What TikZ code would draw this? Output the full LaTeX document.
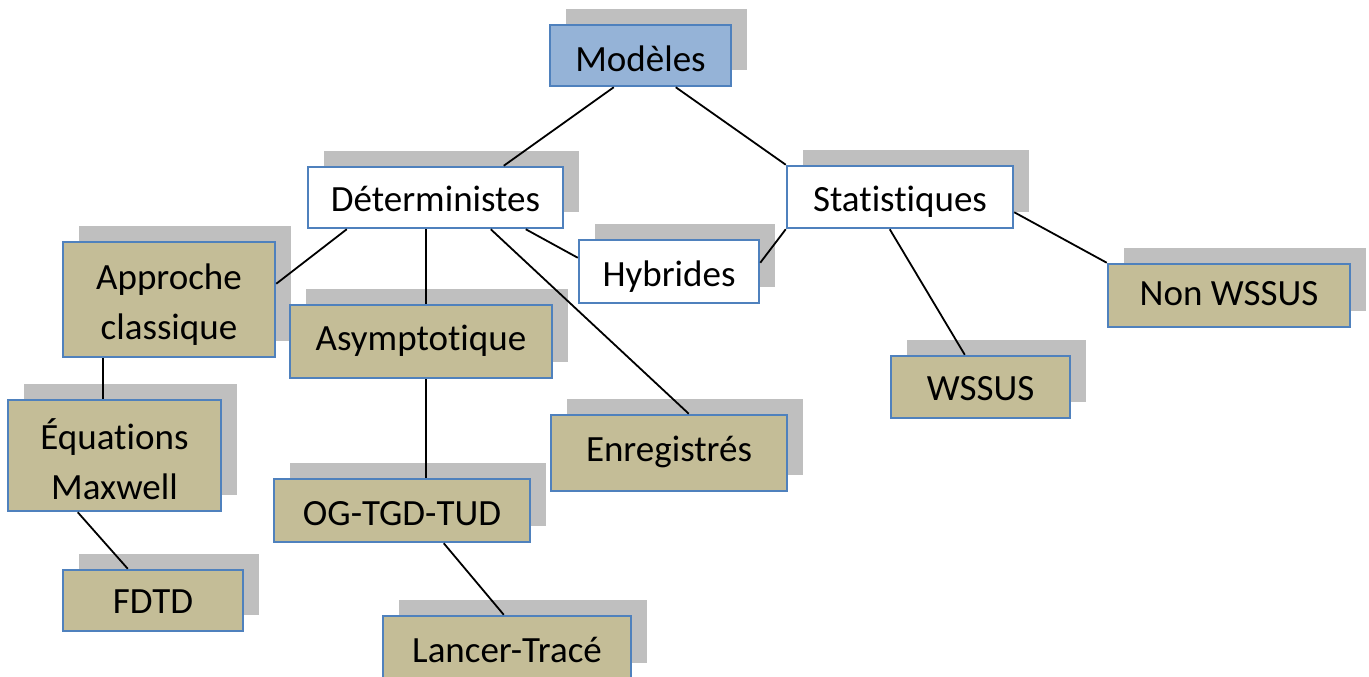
\documentclass[tikz,border=0pt]{standalone}
\usepackage{fontspec}
\setmainfont{Carlito}[Ligatures=NoCommon]
\usetikzlibrary{shadows}
\definecolor{edgeblue}{HTML}{4F81BD}
\definecolor{tanfill}{HTML}{C4BD97}
\definecolor{rootfill}{HTML}{95B3D7}
\definecolor{shadowgray}{HTML}{BFBFBF}
\tikzset{
  box/.style={rectangle, draw=edgeblue, line width=2.5pt, inner sep=0pt,
    font=\fontsize{37}{50}\selectfont, text=black, align=center,
    general shadow={fill=shadowgray, shadow xshift=16pt, shadow yshift=16pt}},
  plainbox/.style={box, fill=white},
  tanbox/.style={box, fill=tanfill},
  rootbox/.style={box, fill=rootfill},
  link/.style={draw=black, line width=1.8pt}
}
\begin{document}
\begin{tikzpicture}[x=1pt, y=-1pt]
\useasboundingbox (0,0) rectangle (1369,677);
\clip (0,0) rectangle (1369,677);

% boxes (centre, width, height)
\node[rootbox,  minimum width=181pt, minimum height=61pt,  text height=32pt, text depth=0pt] (mod)  at (640.5,55.5) {Modèles};
\node[plainbox, minimum width=255pt, minimum height=61pt,  text height=28pt, text depth=0pt] (det)  at (435.5,197.5) {Déterministes};
\node[plainbox, minimum width=226pt, minimum height=62pt,  text height=29pt, text depth=0pt] (sta)  at (900,197) {Statistiques};
\node[plainbox, minimum width=180pt, minimum height=63pt,  text height=30pt, text depth=0pt] (hyb)  at (669,271.5) {Hybrides};
\node[tanbox,   minimum width=212pt, minimum height=115pt] (app)  at (169,299.5) {\rule{0pt}{35pt}Approche\\classique};
\node[tanbox,   minimum width=262pt, minimum height=73pt,  text height=18pt, text depth=0pt] (asy)  at (421,341.5) {Asymptotique};
\node[tanbox,   minimum width=213pt, minimum height=111pt] (equ)  at (114.5,455.5) {\rule{0pt}{39pt}Équations\\Maxwell};
\node[tanbox,   minimum width=180pt, minimum height=61pt,  text height=25pt, text depth=0pt] (fdtd) at (153,600.5) {FDTD};
\node[tanbox,   minimum width=256pt, minimum height=63pt,  text height=29pt, text depth=0pt] (og)   at (402,510.5) {OG-TGD-TUD};
\node[tanbox,   minimum width=236pt, minimum height=76pt,  text height=16pt, text depth=0pt] (enr)  at (669,453) {Enregistrés};
\node[tanbox,   minimum width=248pt, minimum height=63pt,  text height=30pt, text depth=0pt] (lan)  at (507,647.5) {Lancer-Tracé};
\node[tanbox,   minimum width=179pt, minimum height=62pt,  text height=27pt, text depth=0pt] (wss)  at (980.5,387) {WSSUS};
\node[tanbox,   minimum width=242pt, minimum height=63pt,  text height=19pt, text depth=0pt] (non)  at (1229,295.5) {Non WSSUS};

% connectors
\draw[link] ([xshift=65pt]mod.south west) -- ([xshift=197pt]det.north west);
\draw[link] ([xshift=127pt]mod.south west) -- (sta.north west);
\draw[link] ([xshift=40pt]det.south west) -- ([yshift=-43pt]app.north east);
\draw[link] ([xshift=119pt]det.south west) -- ([xshift=137pt]asy.north west);
\draw[link] ([xshift=184pt]det.south west) -- ([xshift=139pt]enr.north west);
\draw[link] ([xshift=219pt]det.south west) -- ([yshift=-19pt]hyb.north west);
\draw[link] (sta.south west) -- ([yshift=-24pt]hyb.north east);
\draw[link] ([xshift=104pt]sta.south west) -- ([xshift=75pt]wss.north west);
\draw[link] ([yshift=17pt]sta.south east) -- (non.north west);
\draw[link] ([xshift=41pt]app.south west) -- ([xshift=96pt]equ.north west);
\draw[link] ([xshift=71pt]equ.south west) -- ([xshift=66pt]fdtd.north west);
\draw[link] ([xshift=137pt]asy.south west) -- ([xshift=153pt]og.north west);
\draw[link] ([xshift=171pt]og.south west) -- ([xshift=122pt]lan.north west);
\end{tikzpicture}
\end{document}
